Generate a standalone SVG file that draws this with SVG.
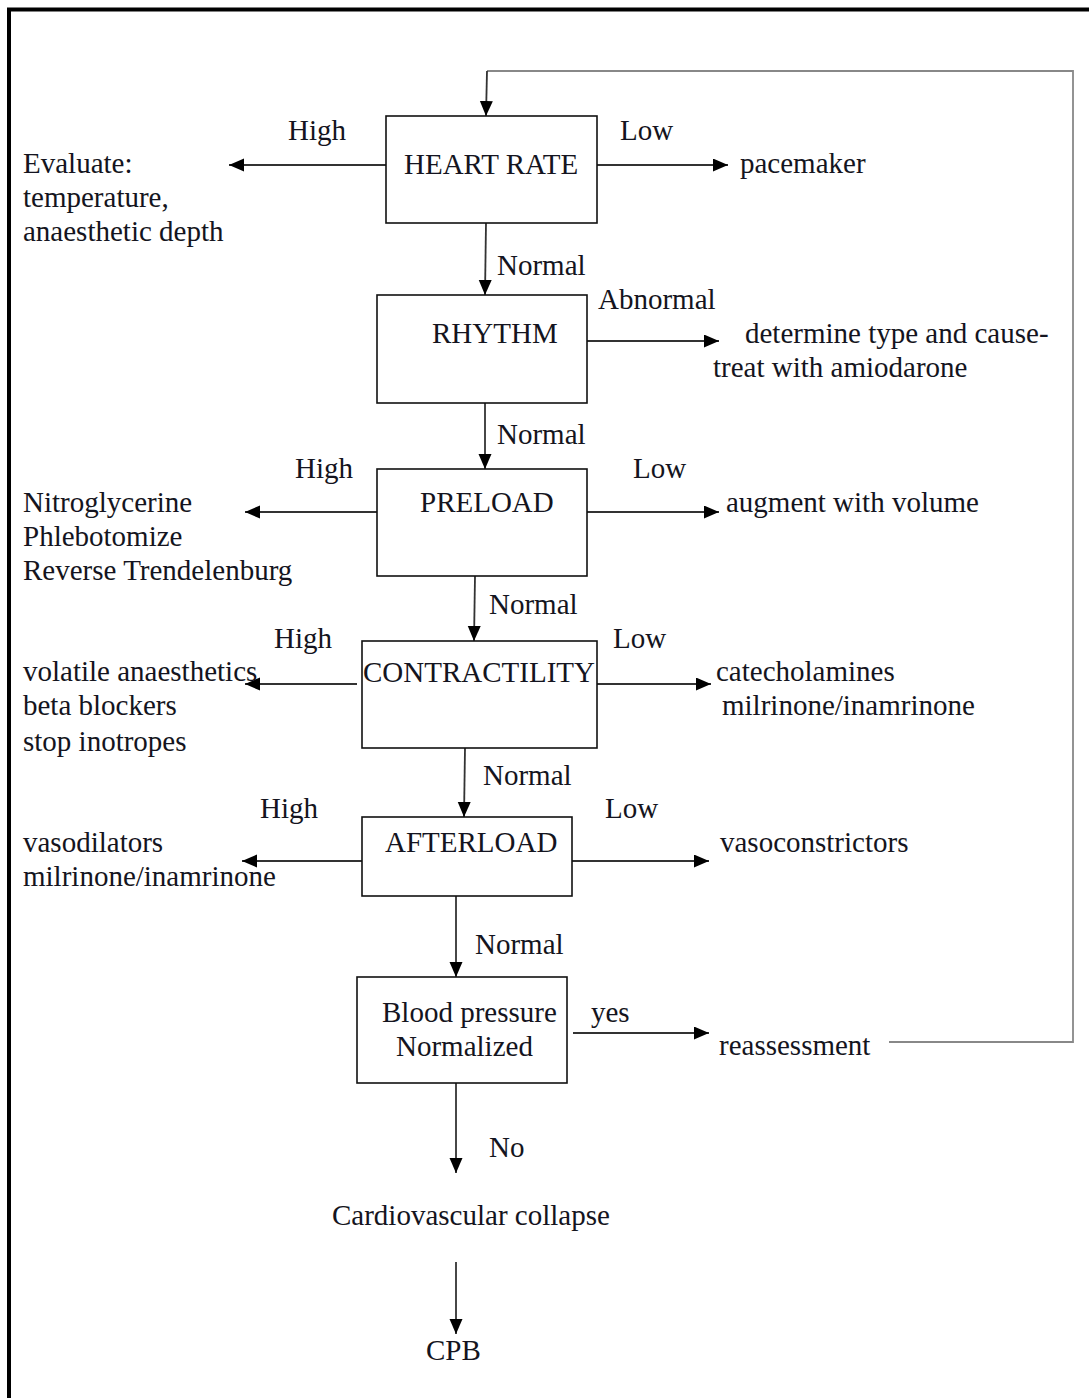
<svg xmlns="http://www.w3.org/2000/svg" width="1089" height="1398" viewBox="0 0 1089 1398">
<style>
text{font-family:"Liberation Serif","Times New Roman",serif;font-size:29px;fill:#141420}
.box{fill:#fff;stroke:#111;stroke-width:1.6}
.c{fill:none;stroke:#333;stroke-width:1.8}
.loop{fill:none;stroke:#888;stroke-width:1.8}
</style>
<defs>
<marker id="ah" markerUnits="userSpaceOnUse" markerWidth="16" markerHeight="14" refX="15" refY="6.5" orient="auto">
<path d="M0,0 L15,6.5 L0,13 z" fill="#000"/>
</marker>
</defs>
<rect x="0" y="0" width="1089" height="1398" fill="#fff"/>
<path d="M9,1398 V9.5 H1089" fill="none" stroke="#000" stroke-width="4"/>

<g id="connectors">
<path class="loop" d="M889,1042 H1073 V71 H487"/>
<path class="c" d="M487,71 L486,116" marker-end="url(#ah)"/>
<path class="c" d="M386,165 H229" marker-end="url(#ah)"/>
<path class="c" d="M597,165 H728" marker-end="url(#ah)"/>
<path class="c" d="M486,223 L485,295" marker-end="url(#ah)"/>
<path class="c" d="M587,341 H719" marker-end="url(#ah)"/>
<path class="c" d="M485,403 V469" marker-end="url(#ah)"/>
<path class="c" d="M377,512 H245" marker-end="url(#ah)"/>
<path class="c" d="M587,512 H719" marker-end="url(#ah)"/>
<path class="c" d="M475,576 L474,641" marker-end="url(#ah)"/>
<path class="c" d="M357,684 H245" marker-end="url(#ah)"/>
<path class="c" d="M597,684 H711" marker-end="url(#ah)"/>
<path class="c" d="M465,748 L464,817" marker-end="url(#ah)"/>
<path class="c" d="M362,861 H242" marker-end="url(#ah)"/>
<path class="c" d="M572,861 H709" marker-end="url(#ah)"/>
<path class="c" d="M456,896 V977" marker-end="url(#ah)"/>
<path class="c" d="M573,1033 H709" marker-end="url(#ah)"/>
<path class="c" d="M456,1083 V1173" marker-end="url(#ah)"/>
<path class="c" d="M456,1262 V1334" marker-end="url(#ah)"/>
</g>

<g id="labels">
<text x="288" y="140">High</text>
<text x="620" y="140">Low</text>
<text x="497" y="275">Normal</text>
<text x="598" y="309">Abnormal</text>
<text x="497" y="444">Normal</text>
<text x="295" y="478">High</text>
<text x="633" y="478">Low</text>
<text x="489" y="614">Normal</text>
<text x="274" y="648">High</text>
<text x="613" y="648">Low</text>
<text x="483" y="785">Normal</text>
<text x="260" y="818">High</text>
<text x="605" y="818">Low</text>
<text x="475" y="954">Normal</text>
<text x="591" y="1022">yes</text>
<text x="489" y="1157">No</text>
</g>

<g id="heart-rate"><rect class="box" x="386" y="116" width="211" height="107"/><text x="404" y="174">HEART RATE</text></g>
<g id="rhythm"><rect class="box" x="377" y="295" width="210" height="108"/><text x="432" y="343">RHYTHM</text></g>
<g id="preload"><rect class="box" x="377" y="469" width="210" height="107"/><text x="420" y="512">PRELOAD</text></g>
<g id="contractility"><rect class="box" x="362" y="641" width="235" height="107"/><text x="363" y="682">CONTRACTILITY</text></g>
<g id="afterload"><rect class="box" x="362" y="817" width="210" height="79"/><text x="385" y="852">AFTERLOAD</text></g>
<g id="bp"><rect class="box" x="357" y="977" width="210" height="106"/><text x="382" y="1022">Blood pressure</text><text x="396" y="1056">Normalized</text></g>

<g id="evaluate"><text x="23" y="173">Evaluate:</text><text x="23" y="207">temperature,</text><text x="23" y="241">anaesthetic depth</text></g>
<g id="pacemaker"><text x="740" y="173">pacemaker</text></g>
<g id="determine"><text x="745" y="343">determine type and cause-</text><text x="713" y="377">treat with amiodarone</text></g>
<g id="preload-high"><text x="23" y="512">Nitroglycerine</text><text x="23" y="546">Phlebotomize</text><text x="23" y="580">Reverse Trendelenburg</text></g>
<g id="preload-low"><text x="726" y="512">augment with volume</text></g>
<g id="contr-high"><text x="23" y="681">volatile anaesthetics</text><text x="23" y="715">beta blockers</text><text x="23" y="751">stop inotropes</text></g>
<g id="contr-low"><text x="716" y="681">catecholamines</text><text x="722" y="715">milrinone/inamrinone</text></g>
<g id="after-high"><text x="23" y="852">vasodilators</text><text x="23" y="886">milrinone/inamrinone</text></g>
<g id="after-low"><text x="720" y="852">vasoconstrictors</text></g>
<g id="reassessment"><text x="719" y="1055">reassessment</text></g>
<g id="collapse"><text x="332" y="1225">Cardiovascular collapse</text></g>
<g id="cpb"><text x="426" y="1360">CPB</text></g>
</svg>
